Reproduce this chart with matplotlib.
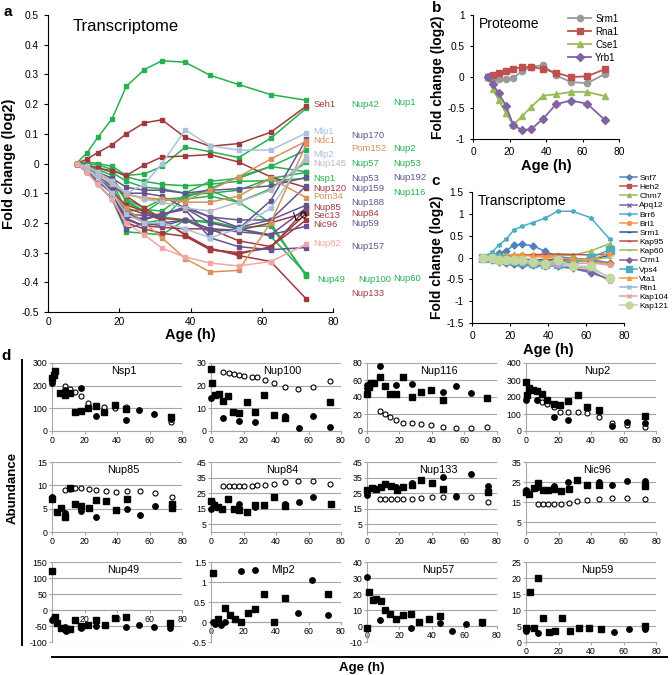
import matplotlib
matplotlib.use("Agg")
import matplotlib.pyplot as plt
from matplotlib.lines import Line2D

plt.rcParams['font.family'] = ['Liberation Sans', 'DejaVu Sans']

W, H = 672, 675

# ---------------- panel a: transcriptome, nucleoporins ----------------
t_a = [8, 11, 14, 18, 22, 27, 32, 38.5, 45.5, 53.5, 62.5, 72.5]

a_names = ['Nup1', 'Nup42', 'Nsp1', 'Nup57', 'Nup2', 'Nup53', 'Nup116', 'Nup49', 'Nup100', 'Nup60',
           'Seh1', 'Nup120', 'Nup85', 'Sec13', 'Nic96', 'Nup84', 'Nup133',
           'Nup170', 'Nup53', 'Nup159', 'Nup188', 'Nup59', 'Nup157', 'Nup192',
           'Ndc1', 'Pom152', 'Pom34', 'Mlp1', 'Mlp2', 'Nup145', 'Nup82']
a_groups = ['g'] * 10 + ['r'] * 7 + ['p'] * 7 + ['t'] * 3 + ['b', 'b', 'k', 'pk']
a_values = [
    [0, .037, .088, .151, .26, .316, .346, .341, .297, .266, .232, .213],
    [0, .005, 0, -.01, -.04, -.035, -.01, .055, .04, .02, .085, .186],
    [0, 0, -.005, -.02, -.045, -.06, -.07, -.075, -.07, -.06, -.058, -.05],
    [0, -.01, -.03, -.05, -.12, -.15, -.12, -.115, -.085, -.045, -.01, .045],
    [0, -.005, -.015, -.03, -.06, -.08, -.085, -.1, -.06, -.05, -.01, -.028],
    [0, -.01, -.02, -.04, -.13, -.165, -.125, -.12, -.11, -.13, -.085, .005],
    [0, -.01, -.03, -.06, -.16, -.155, -.16, -.105, -.1, -.09, -.05, -.03],
    [0, -.01, -.03, -.06, -.125, -.16, -.18, -.19, -.195, -.215, -.21, -.375],
    [0, -.01, -.04, -.08, -.16, -.2, -.19, -.11, -.09, -.13, -.2, -.38],
    [0, -.02, -.07, -.12, -.23, -.235, -.24, -.19, -.2, -.22, -.245, -.372],
    [0, .015, .037, .063, .1, .137, .147, .088, .058, .067, .105, .193],
    [0, -.005, -.015, -.025, -.04, -.005, .022, .025, .03, .005, -.045, -.081],
    [0, -.02, -.05, -.09, -.15, -.17, -.19, -.24, -.29, -.3, -.285, -.151],
    [0, -.03, -.06, -.1, -.185, -.21, -.215, -.22, -.22, -.26, -.28, -.168],
    [0, -.02, -.05, -.1, -.2, -.22, -.235, -.245, -.29, -.305, -.28, -.19],
    [0, -.02, -.04, -.07, -.11, -.15, -.185, -.19, -.22, -.225, -.2, -.165],
    [0, -.02, -.05, -.1, -.14, -.16, -.19, -.24, -.285, -.31, -.33, -.456],
    [0, -.02, -.04, -.08, -.1, -.1, -.11, -.15, -.2, -.22, -.125, .081],
    [0, -.01, -.03, -.05, -.08, -.09, -.09, -.1, -.09, -.085, -.075, -.047],
    [0, -.02, -.05, -.09, -.18, -.185, -.175, -.145, -.18, -.19, -.19, -.075],
    [0, -.03, -.06, -.1, -.17, -.19, -.17, -.15, -.18, -.215, -.19, -.14],
    [0, -.03, -.07, -.12, -.22, -.2, -.21, -.19, -.22, -.23, -.24, -.211],
    [0, -.02, -.05, -.09, -.17, -.175, -.17, -.155, -.25, -.28, -.29, -.283],
    [0, -.02, -.05, -.1, -.19, -.21, -.2, -.19, -.23, -.22, -.24, -.15],
    [0, -.01, -.03, -.06, -.105, -.115, -.12, -.125, -.09, -.045, .015, .075],
    [0, -.02, -.05, -.1, -.15, -.2, -.25, -.32, -.365, -.36, -.2, .065],
    [0, -.01, -.03, -.06, -.1, -.12, -.12, -.13, -.13, -.11, -.05, -.115],
    [0, -.01, -.03, -.06, -.1, -.07, 0, .113, .06, .045, .045, .103],
    [0, -.02, -.05, -.1, -.17, -.2, -.2, -.22, -.25, -.22, -.15, .025],
    [0, -.02, -.04, -.07, -.1, -.12, -.13, -.15, -.16, -.13, -.09, .012],
    [0, -.03, -.07, -.12, -.2, -.24, -.285, -.315, -.335, -.345, -.33, -.272],
]

# gene labels at the right of panel a (column, y in data units)
a_labels = [
    ('Seh1', 'r', 0, .199), ('Mlp1', 'b', 0, .109), ('Ndc1', 't', 0, .078), ('Mlp2', 'b', 0, .029),
    ('Nup145', 'k', 0, .001), ('Nsp1', 'g', 0, -.05), ('Nup120', 'r', 0, -.083), ('Pom34', 't', 0, -.112),
    ('Nup85', 'r', 0, -.147), ('Sec13', 'r', 0, -.176), ('Nic96', 'r', 0, -.205), ('Nup82', 'pk', 0, -.269),
    ('Nup49', 'g', 0.03, -.392),
    ('Nup42', 'g', 1, .199), ('Nup170', 'p', 1, .093), ('Pom152', 't', 1, .05), ('Nup57', 'g', 1, .001),
    ('Nup53', 'p', 1, -.05), ('Nup159', 'p', 1, -.083), ('Nup188', 'p', 1, -.132), ('Nup84', 'r', 1, -.167),
    ('Nup59', 'p', 1, -.201), ('Nup157', 'p', 1, -.28), ('Nup100', 'g', 1.05, -.389), ('Nup133', 'r', 1, -.438),
    ('Nup1', 'g', 2, .204), ('Nup2', 'g', 2, .052), ('Nup53', 'g', 2, .001), ('Nup192', 'p', 2, -.046),
    ('Nup116', 'g', 2, -.098), ('Nup60', 'g', 2, -.387),
]

# ---------------- panel b: proteome ----------------
t_b = [8, 11, 14, 18, 22, 27, 32, 38.5, 45.5, 53.5, 62.5, 72.5]
b_names = ['Srm1', 'Rna1', 'Cse1', 'Yrb1']
b_values = [
    [0, -.01, -.03, -.03, -.02, .1, .165, .19, .025, -.08, -.1, .05],
    [0, .03, .06, .1, .13, .16, .16, .13, .07, 0, .01, .13],
    [0, -.2, -.37, -.58, -.77, -.63, -.48, -.3, -.28, -.24, -.24, -.31],
    [0, -.12, -.26, -.46, -.77, -.86, -.84, -.67, -.44, -.38, -.43, -.7],
]

# ---------------- panel c: transcriptome, transport ----------------
t_c = [6, 10.5, 14, 18, 22, 26.5, 32, 38.5, 45, 53, 62.5, 72.5]
c_names = ['Snf7', 'Heh2', 'Chm7', 'Apq12', 'Brr6', 'Brl1', 'Srm1', 'Kap95', 'Kap60',
           'Crm1', 'Vps4', 'Vta1', 'Rtn1', 'Kap104', 'Kap121']
c_values = [
    [0, .05, .1, .15, .29, .3, .27, .14, .02, -.02, -.05, -.12],
    [0, -.02, -.03, -.05, -.06, -.08, -.08, -.1, -.1, -.1, -.08, -.16],
    [0, .03, .05, .05, .07, .07, .05, .05, .05, .05, .15, .32],
    [0, -.05, -.1, -.12, -.15, -.17, -.18, -.2, -.2, -.25, -.3, -.53],
    [0, .12, .28, .42, .63, .72, .8, .9, 1.06, 1.06, .91, .42],
    [0, -.02, -.03, -.03, .02, .05, .05, .04, 0, -.05, -.1, -.15],
    [0, 0, 0, -.02, -.03, -.04, -.05, -.05, -.06, -.05, -.04, .05],
    [0, 0, .02, .03, .05, .05, .06, .08, .08, .07, .06, .08],
    [0, 0, -.02, -.03, -.05, -.06, -.08, -.1, -.12, -.1, -.05, 0],
    [0, -.05, -.1, -.13, -.15, -.18, -.18, -.2, -.2, -.25, -.35, -.5],
    [0, -.02, -.04, -.05, -.08, -.1, -.12, -.15, -.15, -.1, 0, .18],
    [0, 0, 0, .02, .05, .05, .03, 0, -.02, -.03, -.05, .1],
    [0, -.03, -.05, -.08, -.1, -.12, -.15, -.18, -.2, -.2, -.25, -.45],
    [0, -.02, -.05, -.05, -.08, -.1, -.12, -.15, -.15, -.15, -.12, -.18],
    [0, -.02, -.05, -.05, -.05, -.05, -.1, -.15, -.05, -.2, -.2, -.48],
]

# ---------------- panel d: abundance ----------------
oc_t = [7.5, 11, 14, 17, 20, 25, 28, 33, 39, 45.5, 53.5, 63, 73]
nsp1 = dict(
    sq=([0, 1, 2, 5, 8, 11, 14, 18, 22, 27, 32, 38.5, 45.5, 73],
        [232, 249, 265, 168, 157, 168, 82, 88, 103, 109, 86, 115, 96, 62]),
    ci=([0, 8, 18, 27, 45.5, 53.5, 62.5, 73], [212, 180, 190, 66, 50, 92, 74, 52]),
    oc=([8, 11, 14, 18, 22, 27, 32, 38.5, 45.5, 73], [198, 186, 172, 153, 125, 110, 105, 100, 105, 40]))
nup100 = dict(
    sq=([0, 0.5, 2.5, 5, 7.6, 10.7, 13.8, 17.5, 22, 27, 32.4, 38.8, 45.8, 73],
        [27.5, 21, 15.7, 16.5, 13.3, 15.4, 8.6, 7.8, 13, 8.6, 15.7, 7.2, 5.6, 12.8]),
    ci=([0, 7.6, 17.5, 27, 45.8, 54, 63, 73], [14.4, 5.8, 4.6, 3.9, 6.5, 1.3, 6.8, 1.7]),
    oc=(oc_t, [26, 25.6, 25.3, 24.9, 24.1, 23.8, 23.8, 22.6, 21.2, 19.4, 18.7, 19.4, 22.1]))
nup116 = dict(
    sq=([0, 1, 2.5, 4.6, 8, 10.9, 14.4, 18, 22.4, 27.6, 33.5, 39.5, 47, 74],
        [43, 52, 57, 57, 63.5, 52.5, 43, 44, 63.5, 40, 46, 48.6, 37, 39]),
    ci=([0, 0.3, 8, 18, 27.6, 47, 55, 64], [53.7, 50.6, 77, 54.5, 55, 46, 52.5, 44.7]),
    oc=([8, 11, 14, 18, 22.4, 27.6, 33.5, 39.5, 47, 55, 64, 74],
        [23, 20, 17, 13, 10, 9, 8, 7, 5, 4, 4, 5]))
nup2 = dict(
    sq=([0, 0.4, 2, 4.4, 6.9, 9.7, 12.9, 17, 21, 26, 31.7, 37.7, 44.8, 73],
        [288, 210, 253, 243, 233, 220, 184, 161, 155, 175, 214, 141, 125, 88]),
    ci=([0, 7, 17, 26, 44.8, 53, 62, 73], [183, 180, 85, 65, 116, 30, 55, 45]),
    oc=([7, 10, 13, 17, 21, 26, 31.7, 37.7, 44.8, 53, 62, 73],
        [185, 170, 160, 140, 110, 110, 110, 105, 80, 50, 35, 25]))
nup85 = dict(
    sq=([0, 3, 5.6, 7.8, 11, 14.4, 18, 22.7, 27, 33, 39.6, 46, 74, 74],
        [7.1, 4.3, 5.2, 3.2, 9.5, 6.1, 5.5, 5.1, 6.8, 6.6, 4.8, 7, 6.1, 5.2]),
    ci=([0, 7.8, 18, 27, 46, 54, 63.5, 74], [7.5, 4.1, 4.6, 3.2, 5, 3.7, 5.5, 5.7]),
    oc=([7.8, 11, 14.4, 18, 22.7, 27, 33, 39.6, 46, 54, 63.5, 74],
        [8.9, 9.3, 9.4, 9.4, 9.3, 8.9, 8.7, 8.6, 8.8, 8.7, 8.4, 7.6]))
nup84 = dict(
    sq=([0, 2, 4, 7, 10.3, 14, 17.5, 22, 27, 32.6, 38.8, 45.8, 73.6],
        [20.2, 17.1, 15.8, 14.8, 21.2, 15, 14.4, 13, 17.5, 17.5, 22.7, 16.9, 18.1]),
    ci=([0, 0.4, 17.5, 27, 45.8, 54, 63], [14.8, 19, 18.1, 16, 17.9, 19.2, 22.7]),
    oc=(oc_t, [29.4, 29.4, 29.4, 29.4, 29.4, 29.4, 30, 30.4, 31, 32, 32.7, 32.7, 31]))
nup133 = dict(
    sq=([0, 3, 5.6, 8.4, 10.9, 14.6, 18.2, 22.4, 27.6, 33.5, 39.7, 47, 74.7],
        [27.1, 28.1, 27.5, 29.2, 30.8, 29.8, 27.1, 29.2, 30.2, 33.3, 31.3, 27.5, 26]),
    ci=([0, 18, 27.6, 47, 55, 64, 74.7], [24, 29.2, 31.7, 35.4, 22.9, 37.5, 29.6]),
    oc=([8, 11, 14.6, 18.2, 22.4, 27.6, 33.5, 39.7, 47, 55, 64, 74.7],
        [21, 21, 21, 21, 21, 21.2, 21.7, 22.3, 22.7, 22.7, 22.7, 19.6]))
nic96 = dict(
    sq=([0, 2, 4.8, 7.5, 10.5, 13.5, 17, 21.6, 26.2, 31.6, 37.7, 44.8, 73],
        [20, 19.2, 22.2, 24.7, 20.8, 21.2, 21.7, 20.3, 21.7, 26.2, 23.7, 23.7, 22.8]),
    ci=([0, 7.5, 17, 26, 44.8, 52.8, 62, 73], [21.2, 22.5, 22.8, 25, 25, 23.3, 25.5, 25.5]),
    oc=([7.5, 10.5, 13.5, 17, 21.6, 26.2, 31.6, 37.7, 44.8, 52.8, 62, 73],
        [13.8, 13.8, 13.8, 13.8, 13.8, 14.5, 15.5, 16.2, 16.7, 17, 17.2, 16.7]))
nup49 = dict(
    sq=([0, 1.6, 3.3, 5.4, 8.9, 10.9, 14, 18, 22, 27, 32.6, 38.8, 45.6, 72.8],
        [123, -21, -42, -56, -59, -59, -31, -49, -46, -31, -47, -26, -23, -42]),
    ci=([0, 2, 7.8, 8.9, 18, 27, 45.6, 53.6, 62.5, 72.8],
        [-31, -26, -52, -65, -56, -49, -52, -47, -54, -57]))
mlp2 = dict(
    sq=([1, 4, 8.7, 11.5, 14.8, 18.4, 22.7, 27.2, 32.8, 39, 45.4, 72],
        [1.23, .07, .36, .18, .08, 0, .23, .32, .69, 0, .61, .71]),
    ci=([1, 2.5, 6.2, 8.7, 18.6, 27.2, 45.4, 53.4, 62.3, 72],
        [0, -.06, -.07, 0, 1.27, 1.29, .61, .23, 1.05, .17]))
nup57 = dict(
    sq=([0, 1, 3.4, 5.8, 8.4, 11, 14, 17.8, 22, 26.8, 32, 38, 44.8, 71],
        [-1.5, 21.5, 16.2, 16.9, 15.8, 10, 7.5, 4.2, 6.9, 7.3, 2.7, 4.4, 6.2, 2.3]),
    ci=([0, 8, 26.8, 44.8, 52.4, 61, 71], [30.8, 3.7, -1.5, 1.7, -3.1, 1.2, 1.7]))
nup59 = dict(
    sq=([0, 2.5, 5, 7.6, 10.7, 14.3, 18, 22, 26.9, 32.4, 39, 46.3, 73],
        [4.4, 15.6, 4.4, 20, 7.6, 3.2, 3.5, 7.6, 3.5, 4.4, 4.4, 4, 4.9]),
    ci=([0, 0.4, 7.6, 18, 54, 63.4, 73], [3.4, 4.4, 2.9, 3.5, 3.2, 4, 4]))

d_titles = ['Nsp1', 'Nup100', 'Nup116', 'Nup2', 'Nup85', 'Nup84', 'Nup133', 'Nic96',
            'Nup49', 'Mlp2', 'Nup57', 'Nup59']
d_data = [nsp1, nup100, nup116, nup2, nup85, nup84, nup133, nic96, nup49, mlp2, nup57, nup59]
d_ylim = [(0, 300), (0, 30), (0, 80), (0, 400), (0, 15), (0, 45), (0, 45), (0, 35),
          (-100, 150), (-0.5, 1.5), (-10, 40), (0, 25)]
d_yticks = [[0, 100, 200, 300], [0, 10, 20, 30], [0, 20, 40, 60, 80], [0, 100, 200, 300, 400],
            [0, 5, 10, 15], [5, 15, 25, 35, 45], [5, 15, 25, 35, 45], [5, 15, 25, 35],
            [-100, -50, 0, 50, 100, 150], [-0.5, 0, 0.5, 1, 1.5], [-10, 0, 10, 20, 30, 40],
            [0, 5, 10, 15, 20, 25]]

colors = {'g': '#27b050', 'r': '#a03a3f', 'p': '#63548f', 't': '#d8925c',
          'b': '#a9c3dc', 'k': '#b9b9c6', 'pk': '#f3a5a5'}


def rect(l, t, r, b):
    return [l / W, 1 - b / H, (r - l) / W, (b - t) / H]


fig = plt.figure(figsize=(W / 100, H / 100), dpi=100)

# ---- panel a
ax = fig.add_axes(rect(48, 15, 333, 312))
for vals, g in zip(a_values, a_groups):
    ax.plot(t_a, vals, color=colors[g], lw=1.1, marker='s', ms=2.5)
ax.set_xlim(0, 80)
ax.set_ylim(-0.5, 0.5)
ax.set_xticks([0, 20, 40, 60, 80])
ax.set_yticks([-0.5, -0.4, -0.3, -0.2, -0.1, 0, 0.1, 0.2, 0.3, 0.4, 0.5])
ax.set_yticklabels(['-0.5', '-0.4', '-0.3', '-0.2', '-0.1', '0', '0.1', '0.2', '0.3', '0.4', '0.5'])
for s in ['top', 'right']:
    ax.spines[s].set_visible(False)
ax.tick_params(labelsize=7.3, length=3)
ax.tick_params(axis='x', direction='in')
ax.set_xlabel('Age (h)', fontsize=10.5, fontweight='bold', labelpad=1)
ax.set_ylabel('Fold change (log2)', fontsize=10.5, fontweight='bold', labelpad=4)
ax.text(7, 0.462, 'Transcriptome', fontsize=12, va='center')
col_x = [74.5, 85.2, 96.8]
for name, g, col, y in a_labels:
    ax.text(col_x[int(col)] + (col - int(col)) * 40, y, name, color=colors[g], fontsize=6.8,
            va='center', clip_on=False)
ax.text(71, -0.178, 'Lo', fontsize=9, rotation=18, ha='center', va='center')

# ---- panel b
bstyle = [('#9a9a9a', 'o'), ('#c0504d', 's'), ('#9bbb59', '^'), ('#8064a2', 'D')]
ax = fig.add_axes(rect(473, 15, 619, 139))
for name, vals, (c, m) in zip(b_names, b_values, bstyle):
    ax.plot(t_b, vals, color=c, lw=1.3, marker=m, ms=4.5 if m != 'D' else 4, label=name)
ax.set_xlim(0, 80)
ax.set_ylim(-1, 1)
ax.set_xticks([0, 20, 40, 60, 80])
ax.set_yticks([-1, -0.5, 0, 0.5, 1])
ax.set_yticklabels(['-1', '-0.5', '0', '0.5', '1'])
for s in ['top', 'right']:
    ax.spines[s].set_visible(False)
ax.tick_params(labelsize=7.3, length=2.5)
ax.set_xlabel('Age (h)', fontsize=10.5, fontweight='bold', labelpad=1)
ax.set_ylabel('Fold change (log2)', fontsize=10, fontweight='bold', labelpad=2)
ax.text(3, 0.97, 'Proteome', fontsize=10, va='top')
ax.legend(loc='upper left', bbox_to_anchor=(563 / W, 1 - 9 / H), bbox_transform=fig.transFigure,
          frameon=False, fontsize=7, handlelength=2.4, labelspacing=0.3, borderpad=0,
          handletextpad=0.4)

# ---- panel c
cstyle = [('#4f81bd', 'D'), ('#c0504d', 's'), ('#9bbb59', '^'), ('#8064a2', 'x'),
          ('#4bacc6', (6, 2, 0)), ('#f79646', 'o'), ('#2c5a9a', '_'), ('#c0504d', '_'),
          ('#9bbb59', '_'), ('#7f63a1', 'D'), ('#4bacc6', 's'), ('#f79646', '^'),
          ('#95b3d7', 'x'), ('#e6a19f', 'x'), ('#c3d69b', 'o')]
ax = fig.add_axes(rect(472, 192, 624, 323))
for name, vals, (c, m) in zip(c_names, c_values, cstyle):
    ms = 6 if m in ('o', 's') and name in ('Vps4', 'Kap121') else 3.5
    ax.plot(t_c, vals, color=c, lw=1.1, marker=m, ms=ms, mew=1, label=name)
ax.set_xlim(0, 80)
ax.set_ylim(-1.5, 1.5)
ax.set_xticks([0, 20, 40, 60, 80])
ax.set_yticks([-1.5, -1, -0.5, 0, 0.5, 1, 1.5])
ax.set_yticklabels(['-1.5', '-1', '-0.5', '0', '0.5', '1', '1.5'])
for s in ['top', 'right']:
    ax.spines[s].set_visible(False)
ax.tick_params(labelsize=7.3, length=2.5)
ax.set_xlabel('Age (h)', fontsize=10.5, fontweight='bold', labelpad=1)
ax.set_ylabel('Fold change (log2)', fontsize=10, fontweight='bold', labelpad=2)
ax.text(3, 1.45, 'Transcriptome', fontsize=10, va='top')
ax.legend(loc='upper left', bbox_to_anchor=(616 / W, 1 - 170 / H), bbox_transform=fig.transFigure,
          frameon=False, fontsize=6.0, handlelength=2.0, labelspacing=0.16, borderpad=0,
          handletextpad=0.3, markerscale=0.8)

# ---- panel d
col_l = [52, 211, 367, 526]
rows = [(363, 431), (462, 532), (562, 642)]
grid_c = '#a6a6a6'
for i, (title, data) in enumerate(zip(d_titles, d_data)):
    r, c = divmod(i, 4)
    ax = fig.add_axes(rect(col_l[c], rows[r][0], col_l[c] + 130, rows[r][1]))
    if 'oc' in data:
        ax.plot(*data['oc'], ls='none', marker='o', ms=3.6, mfc='white', mec='black', mew=0.8,
                clip_on=False, zorder=3)
    ax.plot(*data['ci'], ls='none', marker='o', ms=3.9, color='black', clip_on=False, zorder=4)
    ax.plot(*data['sq'], ls='none', marker='s', ms=3.7, color='black', clip_on=False, zorder=4)
    ax.set_xlim(0, 80)
    ax.set_ylim(*d_ylim[i])
    ax.set_yticks(d_yticks[i])
    ax.set_yticklabels([('%g' % v) for v in d_yticks[i]])
    ax.set_xticks([0, 20, 40, 60, 80])
    ax.grid(axis='y', color=grid_c, lw=0.8)
    ax.set_axisbelow(True)
    for s in ['top', 'right']:
        ax.spines[s].set_visible(False)
    for s in ['left', 'bottom']:
        ax.spines[s].set_color(grid_c)
        ax.spines[s].set_linewidth(0.8)
    if d_ylim[i][0] < 0:
        ax.spines['bottom'].set_position(('data', 0))
    ax.tick_params(labelsize=6.3, length=2, color=grid_c, pad=1.5)
    ax.text(0.55, 0.96, title, transform=ax.transAxes, ha='center', va='top', fontsize=7.8)

# frame lines and labels of panel d
fig.add_artist(Line2D([22 / W, 22 / W], [1 - 360 / H, 1 - 645 / H], color='black', lw=1.4))
fig.add_artist(Line2D([52 / W, 667 / W], [1 - 657 / H, 1 - 657 / H], color='black', lw=1.4))
fig.text(13 / W, 1 - 488 / H, 'Abundance', rotation=90, ha='center', va='center',
         fontsize=9.5, fontweight='bold')
fig.text(362 / W, 1 - 668 / H, 'Age (h)', ha='center', va='center', fontsize=9.5, fontweight='bold')

for lab, x, y in [('a', 8, 12), ('b', 437, 8), ('c', 436, 181), ('d', 6, 356)]:
    fig.text(x / W, 1 - y / H, lab, ha='center', va='center', fontsize=11, fontweight='bold')

fig.savefig('out.png', dpi=100)
